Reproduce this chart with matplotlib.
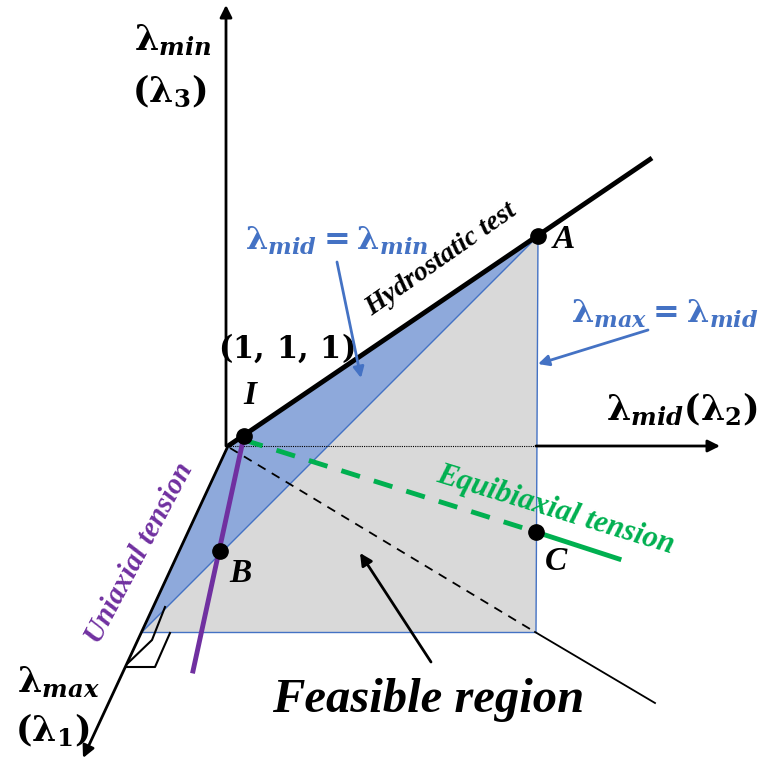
import matplotlib.pyplot as plt
from matplotlib.patches import Polygon

plt.rcParams['mathtext.fontset'] = 'custom'
plt.rcParams['mathtext.rm'] = 'DejaVu Serif:bold'
plt.rcParams['mathtext.it'] = 'DejaVu Serif:bold:italic'
plt.rcParams['mathtext.bf'] = 'DejaVu Serif:bold'

# diagram points (pixel coordinates of the sketch, y grows downward)
origin = (228, 446)
pt_I = (244, 436)
pt_A = (538, 236)
pt_B = (220, 551)
pt_C = (536, 532)
corner_left = (142, 632)
corner_right = (536, 632)
hydro_end = (652, 158)
axis_min_tip = (226, 5)
axis_mid_tip = (720, 446)
axis_max_tip = (83, 758)
uniaxial_end = (193, 671)
equi_end = (619, 559)
diag_dash_end = (535, 632)
diag_end = (655, 703)

blue_fill = '#8EA9DB'
gray_fill = '#D9D9D9'
blue = '#4472C4'
green = '#00B050'
purple = '#7030A0'

fig = plt.figure(figsize=(7.69, 7.63), dpi=100)
ax = fig.add_axes([0, 0, 1, 1])
ax.set_xlim(0, 769)
ax.set_ylim(763, 0)
ax.axis('off')

# regions
ax.add_patch(Polygon([pt_A, corner_right, corner_left], closed=True,
                     facecolor=gray_fill, edgecolor='none', zorder=1))
ax.add_patch(Polygon([origin, pt_I, pt_A, corner_left], closed=True,
                     facecolor=blue_fill, edgecolor='none', zorder=1))
ax.plot([corner_left[0], pt_A[0]], [corner_left[1], pt_A[1]], color=blue, lw=1, zorder=2)
ax.plot([corner_left[0], corner_right[0]], [corner_left[1], corner_right[1]], color=blue, lw=1, zorder=2)
ax.plot([pt_A[0], corner_right[0]], [pt_A[1], corner_right[1]], color=blue, lw=1, zorder=2)

# axes
arrow_kw = dict(arrowstyle='-|>', color='black', lw=2, mutation_scale=18, shrinkA=0, shrinkB=0)
ax.annotate('', xy=axis_min_tip, xytext=(axis_min_tip[0], origin[1]), arrowprops=arrow_kw, zorder=3)
ax.plot([origin[0], corner_right[0]], [origin[1], origin[1]], color='black', lw=0.8, ls=(0, (1, 1)), zorder=3)
ax.annotate('', xy=axis_mid_tip, xytext=(corner_right[0], origin[1]), arrowprops=arrow_kw, zorder=3)
ax.annotate('', xy=axis_max_tip, xytext=origin, arrowprops=arrow_kw, zorder=3)

# hydrostatic line
ax.plot([origin[0], hydro_end[0]], [origin[1], hydro_end[1]], color='black', lw=3.5,
        solid_capstyle='butt', zorder=4)

# dashed diagonal
ax.plot([origin[0] + 2, diag_dash_end[0]], [origin[1] + 2, diag_dash_end[1]], color='black',
        lw=1.3, ls=(0, (5, 4)), zorder=3)
ax.plot([diag_dash_end[0], diag_end[0]], [diag_dash_end[1], diag_end[1]], color='black', lw=1.3, zorder=3)

# equibiaxial
ax.plot([pt_I[0], pt_C[0]], [pt_I[1] + 4, pt_C[1]], color=green, lw=3.5, ls=(0, (4, 3)), zorder=4)
ax.plot([pt_C[0], equi_end[0]], [pt_C[1], equi_end[1]], color=green, lw=3.5, zorder=4)

# uniaxial
ax.plot([pt_I[0], uniaxial_end[0]], [pt_I[1], uniaxial_end[1]], color=purple, lw=3.5, zorder=4)

# right angle marker
ax.plot([127, 155, 170], [667, 667, 633], color='black', lw=1.5, zorder=3)
ax.plot([128, 152, 165], [663, 640, 607], color='black', lw=1.5, zorder=3)

# points
for p in [pt_I, pt_A, pt_B, pt_C]:
    ax.plot(p[0], p[1], 'o', color='black', ms=11, zorder=6)

# annotation arrows
ax.annotate('', xy=(361, 378), xytext=(337, 262),
            arrowprops=dict(arrowstyle='-|>', color=blue, lw=2, mutation_scale=16, shrinkA=0, shrinkB=0), zorder=5)
ax.annotate('', xy=(538, 364), xytext=(648, 330),
            arrowprops=dict(arrowstyle='-|>', color=blue, lw=2, mutation_scale=16, shrinkA=0, shrinkB=0), zorder=5)
ax.annotate('', xy=(360, 553), xytext=(431, 662),
            arrowprops=dict(arrowstyle='-|>', color='black', lw=2, mutation_scale=18, shrinkA=0, shrinkB=0), zorder=5)

# labels
lab = dict(fontsize=25, ha='center', va='center', color='black')
ax.text(173, 40, r'$\mathrm{\lambda}_{min}$', **lab)
ax.text(169, 92, r'$(\mathrm{\lambda}_{3})$', **lab)
ax.text(682, 410, r'$\mathrm{\lambda}_{mid}(\mathrm{\lambda}_{2})$', **lab)
ax.text(58, 682, r'$\mathrm{\lambda}_{max}$', **lab)
ax.text(52, 730, r'$(\mathrm{\lambda}_{1})$', **lab)
ax.text(286, 348, r'$\mathrm{(1,\,1,\,1)}$', fontsize=22, ha='center', va='center', color='black')
ax.text(337, 241, r'$\mathrm{\lambda}_{mid}=\mathrm{\lambda}_{min}$', fontsize=23, ha='center', va='center', color=blue)
ax.text(665, 314, r'$\mathrm{\lambda}_{max}=\mathrm{\lambda}_{mid}$', fontsize=23, ha='center', va='center', color=blue)

serif = dict(family='Liberation Serif', weight='bold', style='italic', ha='center', va='center')
ax.text(250, 395, 'I', fontsize=24, **serif)
ax.text(564, 240, 'A', fontsize=24, **serif)
ax.text(240, 573, 'B', fontsize=24, **serif)
ax.text(556, 562, 'C', fontsize=24, **serif)
ax.text(441, 260, 'Hydrostatic test', fontsize=20, rotation=35, rotation_mode='anchor', **serif)
ax.text(139, 553, 'Uniaxial tension', fontsize=21, rotation=62, rotation_mode='anchor', color=purple, **serif)
ax.text(556, 510, 'Equibiaxial tension', fontsize=22, rotation=-17, rotation_mode='anchor', color=green, **serif)
ax.text(428, 700, 'Feasible region', fontsize=35, **serif)

fig.savefig('out.png', dpi=100)
